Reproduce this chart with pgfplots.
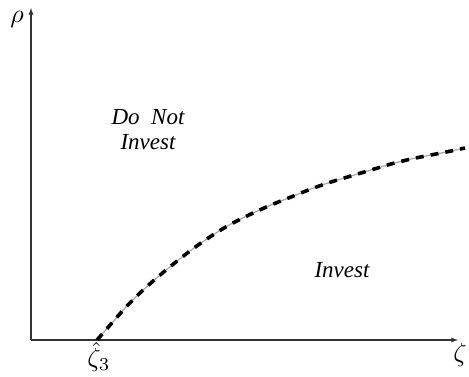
\documentclass[border=0pt]{standalone}
\usepackage{fontspec}
\setmainfont{Liberation Serif}
\usepackage{graphicx}
\usepackage{pgfplots}
\pgfplotsset{compat=1.18}

% Investment threshold boundary rho(zeta)
\pgfplotstableread{
x y
66 0
80 16
95 33
110 48
125 61.5
140 74
155 86
170 97
185 107
200 116
220 126
240 135
260 143
280 151
300 158
320 164
340 170
360 176
380 181
400 185
420 189
434 192
}\boundary

\newcommand{\bigmath}[1]{\scalebox{2.6}{$#1$}}

\begin{document}
\begin{tikzpicture}
\begin{axis}[
  name=ax,
  at={(0,0)}, anchor=south west,
  scale only axis,
  x=1pt, y=1pt,
  xmin=0, xmax=427, ymin=0, ymax=332,
  axis lines=left,
  axis line style={line width=1.3pt, black!80, -latex},
  xtick={65}, xticklabels={\bigmath{\hat{\zeta}_3}},
  ytick=\empty,
  major tick length=0pt,
  xticklabel style={anchor=center, xshift=3pt, yshift=-17pt},
  clip=false,
  every axis plot/.append style={line join=round},
]
\addplot[gray!70, line width=1.2pt, smooth] table {\boundary};
\addplot[black, line width=3.6pt, dash pattern=on 8pt off 7pt, smooth] table {\boundary};
\node[font=\fontsize{23}{25}\selectfont\itshape, align=center]
  at (axis cs:117,210) {Do\enspace Not\\Invest};
\node[font=\fontsize{23}{25}\selectfont\itshape] at (axis cs:311,70) {Invest};
\node at (axis cs:-14,321) {\bigmath{\rho}};
\node at (axis cs:429,-15) {\bigmath{\zeta}};
\end{axis}
\pgfresetboundingbox
\path ([shift={(-31pt,-36pt)}]ax.south west) rectangle ([shift={(438pt,340pt)}]ax.south west);
\end{tikzpicture}
\end{document}
